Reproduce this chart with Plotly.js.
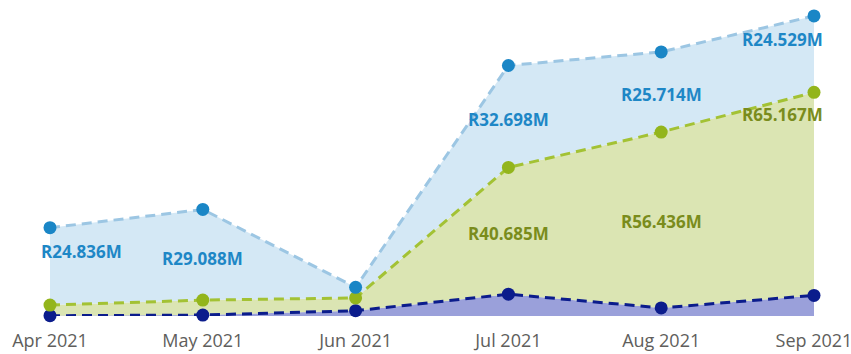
<!DOCTYPE html>
<html>
<head>
<meta charset="utf-8">
<script src="https://cdn.plot.ly/plotly-3.0.1.min.js"></script>
<style>html,body{margin:0;padding:0;background:#fff;}#chart{width:851px;height:354px;}</style>
</head>
<body>
<div id="chart"></div>
<script>
// Data (values in millions of Rand)
const months = ["Apr 2021", "May 2021", "Jun 2021", "Jul 2021", "Aug 2021", "Sep 2021"];
const seriesBottom = [0.1, 0.3, 1.7, 7.0, 2.6, 6.6];
const seriesMiddle = [3.4, 4.8, 4.1, 40.685, 56.436, 65.167];
const seriesTop = [24.836, 29.088, 3.4, 32.698, 25.714, 24.529];
const topLabels = ["R24.836M", "R29.088M", "", "R32.698M", "R25.714M", "R24.529M"];
const middleLabels = ["", "", "", "R40.685M", "R56.436M", "R65.167M"];

const navy = "#0b1c8c", green = "#93b51c", lblue = "#1a86c6";

const traces = [
  {x: months, y: seriesBottom, type: "scatter", mode: "lines+markers", stackgroup: "s",
   line: {color: navy, width: 3, dash: "10px,6px"}, marker: {color: navy, size: 13},
   fillcolor: "rgba(120,128,205,0.75)", cliponaxis: false, hoverinfo: "skip"},
  {x: months, y: seriesMiddle, type: "scatter", mode: "lines+markers", stackgroup: "s",
   line: {color: "#a3c234", width: 3, dash: "10px,6px"}, marker: {color: green, size: 13},
   fillcolor: "rgba(210,222,160,0.8)", cliponaxis: false, hoverinfo: "skip"},
  {x: months, y: seriesTop, type: "scatter", mode: "lines+markers", stackgroup: "s",
   line: {color: "#9cc6e3", width: 3, dash: "10px,6px"}, marker: {color: lblue, size: 13},
   fillcolor: "rgba(205,228,243,0.85)", cliponaxis: false, hoverinfo: "skip"}
];

// label placement (styling only)
const topShift = [[ -11, 15, "left"], [0, -4, "center"], null, [0, -3, "center"], [0, -3, "center"], [11, 15, "right"]];
const midShift = [null, null, null, [0, -3, "center"], [0, -2, "center"], [11, 79, "right"]];

const annotations = [];
months.forEach((m, i) => {
  const b = seriesBottom[i], mid = seriesMiddle[i], top = seriesTop[i];
  if (topLabels[i]) {
    const s = topShift[i];
    annotations.push({x: m, y: b + mid + top / 2, text: topLabels[i], showarrow: false,
      xanchor: s[2], xshift: s[0], yshift: s[1],
      font: {family: "Open Sans", size: 17, color: "#1e87c6", weight: "bold"}});
  }
  if (middleLabels[i]) {
    const s = midShift[i];
    annotations.push({x: m, y: b + mid / 2, text: middleLabels[i], showarrow: false,
      xanchor: s[2], xshift: s[0], yshift: s[1],
      font: {family: "Open Sans", size: 17, color: "#7a8c1c", weight: "bold"}});
  }
});

const layout = {
  width: 851, height: 354,
  margin: {l: 50, r: 37, t: 10, b: 37.5},
  paper_bgcolor: "#fff", plot_bgcolor: "#fff",
  showlegend: false,
  xaxis: {type: "category", range: [0, 5], showgrid: false, zeroline: false, showline: false,
    ticks: "outside", ticklen: 8, tickcolor: "rgba(0,0,0,0)",
    tickfont: {family: "Open Sans", size: 18, color: "#605e5c"}},
  yaxis: {range: [0, 98.2], showgrid: false, zeroline: false, showline: false, showticklabels: false, ticks: ""},
  annotations: annotations
};

Plotly.newPlot("chart", traces, layout, {staticPlot: true, displayModeBar: false});
</script>
</body>
</html>
